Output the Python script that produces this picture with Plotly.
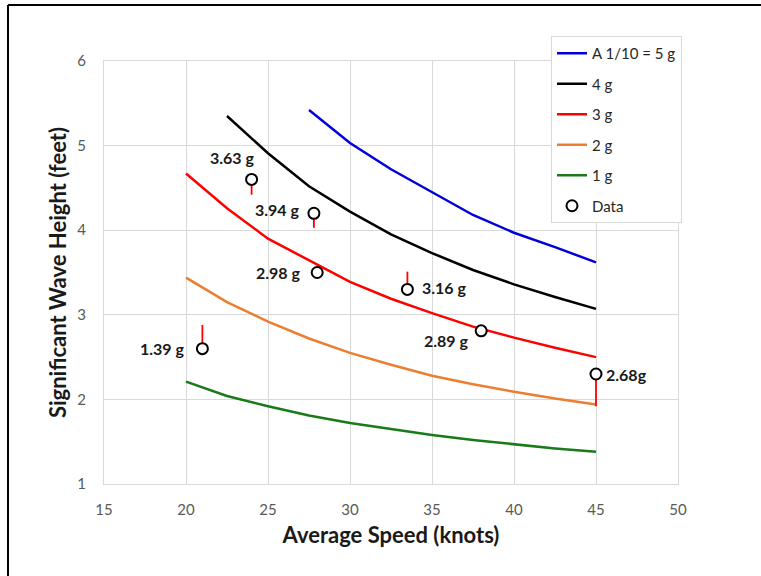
import plotly.graph_objects as go

# Design curves: significant wave height (ft) vs. average speed (knots)
speeds = [20, 22.5, 25, 27.5, 30, 32.5, 35, 37.5, 40, 42.5, 45]
h_5g = [None, None, None, 5.42, 5.03, 4.72, 4.45, 4.18, 3.97, 3.80, 3.62]
h_4g = [None, 5.35, 4.91, 4.52, 4.22, 3.95, 3.73, 3.53, 3.36, 3.21, 3.07]
h_3g = [4.67, 4.26, 3.90, 3.64, 3.39, 3.19, 3.02, 2.86, 2.73, 2.61, 2.50]
h_2g = [3.44, 3.15, 2.92, 2.72, 2.55, 2.41, 2.28, 2.18, 2.09, 2.01, 1.94]
h_1g = [2.21, 2.04, 1.92, 1.81, 1.72, 1.65, 1.58, 1.52, 1.47, 1.42, 1.38]

curve_names = ["A 1/10 = 5 g", "4 g", "3 g", "2 g", "1 g"]
curve_colors = ["#0000d8", "#000000", "#ff0000", "#ed7d31", "#1a7a1a"]

# Measured runs
data_speed = [24, 27.8, 28, 21, 33.5, 38, 45]
data_height = [4.6, 4.2, 3.5, 2.6, 3.3, 2.81, 2.3]
data_labels = ["3.63 g", "3.94 g", "2.98 g", "1.39 g", "3.16 g", "2.89 g", "2.68g"]
# End of red offset line for each run (None = no line)
offset_end = [4.42, 4.03, None, 2.88, 3.51, None, 1.92]
# Label placement: (xanchor, xshift, yshift)
label_pos = [
    ("center", -19, 22),
    ("right", -12, 4),
    ("right", -14, 0),
    ("right", -15, 0),
    ("left", 13, 2),
    ("right", -10, -10),
    ("left", 8, 0),
]

FONT = "Lato, Carlito, Calibri, sans-serif"

fig = go.Figure()

for name, color, h in zip(curve_names, curve_colors, [h_5g, h_4g, h_3g, h_2g, h_1g]):
    fig.add_trace(go.Scatter(
        x=speeds, y=h, mode="lines", name=name, legendgroup=name,
        line=dict(color=color, width=2.5), connectgaps=False,
    ))

# Red offset lines from each measured point
ox, oy = [], []
for x, y, e in zip(data_speed, data_height, offset_end):
    if e is None:
        continue
    ox += [x, x, None]
    oy += [y, e, None]
fig.add_trace(go.Scatter(
    x=ox, y=oy, mode="lines", showlegend=False, hoverinfo="skip",
    line=dict(color="#ff0000", width=1.8),
))

fig.add_trace(go.Scatter(
    x=data_speed, y=data_height, mode="markers", name="Data", legendgroup="Data",
    marker=dict(symbol="circle", size=11, color="white",
                line=dict(color="#000000", width=2)),
))

for x, y, lab, (anc, dx, dy) in zip(data_speed, data_height, data_labels, label_pos):
    fig.add_annotation(
        x=x, y=y, text=f"<b>{lab}</b>", showarrow=False,
        xanchor=anc, yanchor="middle", xshift=dx, yshift=dy,
        font=dict(family=FONT, size=16, color="#1a1a1a"),
    )

# Outer chart frame (left and top edges)
L, T, W, H = 104, 61, 574, 423
def px(xp):
    return (xp - L) / W
def py(yp):
    return (T + H - yp) / H
fig.add_shape(type="line", xref="paper", yref="paper",
              x0=px(8), y0=py(5), x1=px(770), y1=py(5),
              line=dict(color="#000000", width=2))
fig.add_shape(type="line", xref="paper", yref="paper",
              x0=px(8), y0=py(5), x1=px(8), y1=py(590),
              line=dict(color="#000000", width=2))

fig.update_layout(
    width=761, height=576,
    margin=dict(l=L, r=761 - L - W, t=T, b=576 - T - H),
    paper_bgcolor="white", plot_bgcolor="white",
    font=dict(family=FONT, size=15, color="#595959"),
    xaxis=dict(
        range=[15, 50], dtick=5, tick0=15,
        showgrid=True, gridcolor="#d9d9d9", gridwidth=1,
        showline=True, linecolor="#d9d9d9", mirror=True, zeroline=False,
        ticks="outside", ticklen=12, tickcolor="rgba(0,0,0,0)",
        tickfont=dict(size=15, color="#595959"),
        title=dict(text="<b>Average Speed (knots)</b>", standoff=10,
                   font=dict(size=22, color="#1a1a1a")),
    ),
    yaxis=dict(
        range=[1, 6], dtick=1,
        showgrid=True, gridcolor="#d9d9d9", gridwidth=1,
        showline=True, linecolor="#d9d9d9", mirror=True, zeroline=False,
        ticks="outside", ticklen=14, tickcolor="rgba(0,0,0,0)",
        tickfont=dict(size=15, color="#595959"),
        title=dict(text="<b>Significant Wave Height (feet)</b>", standoff=4,
                   font=dict(size=22, color="#1a1a1a")),
    ),
    legend=dict(
        x=px(551), y=py(36), xanchor="left", yanchor="top",
        bgcolor="white", bordercolor="#d9d9d9", borderwidth=1,
        font=dict(family=FONT, size=15, color="#262626"),
        tracegroupgap=8,
    ),
    showlegend=True,
)

fig.write_html("out.html")
